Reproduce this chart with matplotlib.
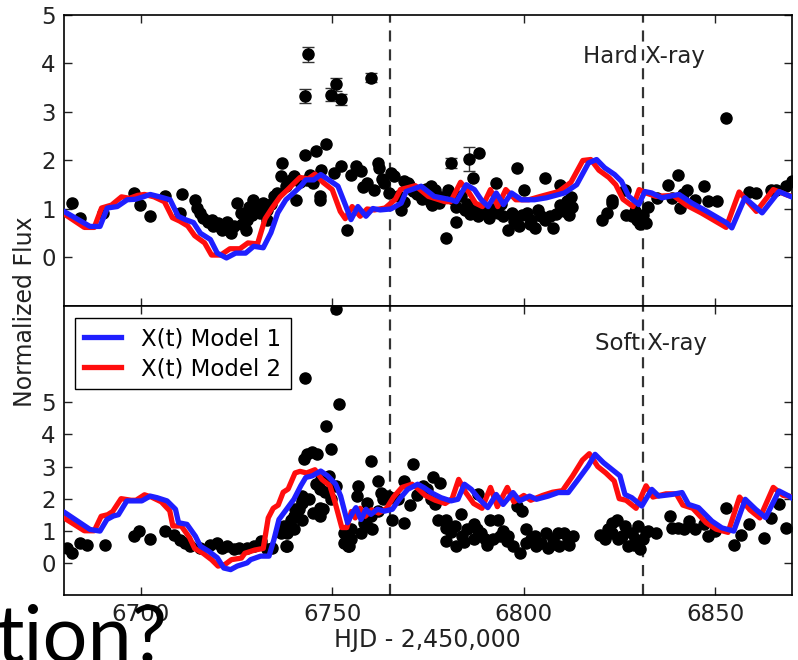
import matplotlib
matplotlib.use('Agg')
import matplotlib.pyplot as plt

# --- model curves, hard X-ray panel ---
hard_m1_t = [6680.0, 6686.8, 6689.4, 6691.3, 6693.9, 6696.5, 6698.6, 6700.7, 6702.5, 6705.0,
             6707.7, 6709.8, 6711.7, 6713.8, 6715.6, 6718.2, 6720.0, 6722.4, 6724.8, 6727.4,
             6729.5, 6732.0, 6734.0, 6735.8, 6737.9, 6739.9, 6741.8, 6743.1, 6745.2, 6747.0,
             6749.1, 6751.5, 6753.6, 6754.9, 6756.7, 6758.8, 6760.6, 6762.5, 6765.3, 6768.0,
             6769.3, 6773.2, 6776.6, 6781.0, 6782.4, 6785.0, 6787.1, 6788.9, 6790.7, 6792.8,
             6794.7, 6796.8, 6799.4, 6802.8, 6805.9, 6810.6, 6813.8, 6816.9, 6819.0, 6821.1,
             6823.7, 6825.5, 6827.4, 6830.0, 6831.6, 6833.4, 6836.0, 6840.5, 6843.9, 6847.8,
             6853.0, 6854.3, 6857.7, 6862.2, 6866.6, 6870.5]
hard_m1_f = [0.95, 0.64, 0.64, 1.02, 1.05, 1.19, 1.20, 1.25, 1.30, 1.25,
             1.19, 0.85, 0.78, 0.72, 0.50, 0.37, 0.09, -0.01, 0.09, 0.09,
             0.23, 0.20, 0.51, 0.92, 1.19, 1.33, 1.47, 1.60, 1.60, 1.71,
             1.60, 1.47, 1.05, 0.78, 1.05, 0.85, 1.01, 0.98, 1.00, 1.12,
             1.36, 1.47, 1.26, 1.19, 1.15, 1.50, 1.40, 1.19, 1.05, 1.33,
             1.09, 1.33, 1.19, 1.19, 1.23, 1.33, 1.50, 1.95, 2.02, 1.85,
             1.71, 1.57, 1.26, 1.09, 1.36, 1.33, 1.23, 1.30, 1.12, 0.95,
             0.71, 0.61, 1.23, 0.92, 1.36, 1.23]

hard_m2_t = [6680.0, 6685.3, 6687.9, 6689.8, 6692.4, 6695.0, 6697.1, 6699.2, 6701.0, 6703.5,
             6706.2, 6708.3, 6710.2, 6712.3, 6714.1, 6716.7, 6718.5, 6720.9, 6723.3, 6725.9,
             6728.0, 6730.5, 6732.5, 6734.3, 6736.4, 6738.4, 6740.3, 6741.6, 6743.7, 6745.5,
             6747.6, 6750.0, 6752.1, 6753.4, 6755.2, 6757.3, 6759.1, 6761.0, 6763.8, 6766.5,
             6767.8, 6771.7, 6775.1, 6779.5, 6780.9, 6783.5, 6785.6, 6787.4, 6789.2, 6791.3,
             6793.2, 6795.3, 6797.9, 6801.3, 6804.4, 6809.1, 6812.3, 6815.4, 6817.5, 6819.6,
             6822.2, 6824.0, 6825.9, 6828.5, 6830.1, 6831.9, 6834.5, 6839.0, 6842.4, 6846.3,
             6851.5, 6852.8, 6856.2, 6860.7, 6865.1, 6869.0, 6870.5]
hard_m2_f = [0.90, 0.62, 0.62, 1.02, 1.08, 1.25, 1.22, 1.28, 1.30, 1.25,
             1.15, 0.82, 0.75, 0.65, 0.45, 0.30, 0.05, 0.05, 0.18, 0.18,
             0.30, 0.28, 0.80, 1.02, 1.25, 1.40, 1.55, 1.65, 1.62, 1.72,
             1.55, 1.40, 0.95, 0.80, 1.05, 0.85, 1.00, 0.98, 1.02, 1.20,
             1.40, 1.48, 1.26, 1.15, 1.15, 1.55, 1.35, 1.12, 1.05, 1.40,
             1.05, 1.40, 1.19, 1.19, 1.26, 1.36, 1.55, 2.00, 2.02, 1.80,
             1.65, 1.50, 1.20, 1.05, 1.40, 1.33, 1.26, 1.28, 1.08, 0.92,
             0.68, 0.62, 1.35, 0.95, 1.40, 1.28, 1.25]

# --- model curves, soft X-ray panel ---
soft_m1_t = [6680.3, 6686.8, 6689.4, 6691.2, 6692.9, 6694.2, 6696.4, 6699.0, 6700.3, 6702.5,
             6704.3, 6706.9, 6709.1, 6709.9, 6712.1, 6714.3, 6715.6, 6717.8, 6720.0, 6721.7,
             6723.5, 6725.2, 6727.8, 6728.7, 6731.3, 6733.5, 6734.8, 6736.1, 6737.4, 6738.7,
             6740.0, 6741.8, 6743.1, 6744.8, 6747.0, 6748.8, 6750.9, 6752.2, 6754.0, 6755.3,
             6756.2, 6757.5, 6758.8, 6760.1, 6761.8, 6763.6, 6765.7, 6767.5, 6769.7, 6772.3,
             6774.0, 6775.8, 6778.4, 6781.0, 6782.8, 6784.5, 6786.3, 6788.4, 6790.6, 6792.8,
             6794.6, 6797.2, 6798.9, 6801.5, 6803.3, 6806.4, 6809.0, 6811.6, 6814.2, 6816.8,
             6818.6, 6820.8, 6822.9, 6825.1, 6826.4, 6828.2, 6830.8, 6833.4, 6835.2, 6838.6,
             6841.3, 6843.0, 6845.6, 6849.1, 6851.7, 6854.8, 6857.8, 6860.5, 6863.1, 6866.6,
             6869.2, 6870.5]
soft_m1_f = [1.56, 1.04, 0.99, 1.35, 1.46, 1.50, 1.93, 1.93, 1.93, 2.08,
             2.03, 1.93, 1.67, 1.25, 1.20, 0.83, 0.52, 0.36, 0.16, -0.16,
             -0.21, -0.10, 0.00, 0.10, 0.21, 0.21, 0.73, 1.35, 1.56, 1.77,
             1.98, 2.40, 2.66, 2.71, 2.86, 2.71, 2.45, 2.08, 1.25, 1.56,
             1.72, 1.35, 1.67, 1.51, 1.67, 1.61, 1.67, 1.98, 2.29, 2.45,
             2.34, 2.19, 2.03, 1.93, 1.98, 2.45, 2.29, 1.98, 1.72, 2.13,
             1.82, 2.19, 1.93, 2.08, 1.98, 2.08, 2.19, 2.19, 2.60, 3.02,
             3.38, 3.12, 2.92, 2.71, 2.13, 2.03, 1.77, 2.29, 2.08, 2.13,
             2.19, 1.82, 1.72, 1.30, 1.09, 0.99, 1.98, 1.67, 1.41, 2.24,
             2.08, 1.98]

soft_m2_t = [6680.0, 6685.3, 6687.9, 6689.7, 6691.4, 6692.7, 6694.9, 6697.5, 6698.8, 6701.0,
             6702.8, 6705.4, 6707.6, 6708.4, 6710.6, 6712.8, 6714.1, 6716.3, 6718.5, 6720.2,
             6722.0, 6723.7, 6726.3, 6727.2, 6729.8, 6732.0, 6733.3, 6734.6, 6735.9, 6737.2,
             6738.5, 6740.3, 6741.6, 6743.3, 6745.5, 6747.3, 6749.4, 6750.7, 6752.5, 6753.8,
             6755.0, 6756.0, 6757.3, 6758.6, 6760.3, 6762.1, 6764.2, 6766.0, 6768.2, 6770.8,
             6772.5, 6774.3, 6776.9, 6779.5, 6781.3, 6783.0, 6784.8, 6786.9, 6789.1, 6791.3,
             6793.1, 6795.7, 6797.4, 6800.0, 6801.8, 6804.9, 6807.5, 6810.1, 6812.7, 6815.3,
             6817.1, 6819.3, 6821.4, 6823.6, 6824.9, 6826.7, 6829.3, 6831.9, 6833.7, 6837.1,
             6839.8, 6841.5, 6844.1, 6847.6, 6850.2, 6853.3, 6856.3, 6859.0, 6861.6, 6865.1,
             6867.7, 6870.5]
soft_m2_f = [1.40, 1.00, 1.00, 1.45, 1.50, 1.60, 2.00, 1.95, 1.95, 2.12,
             2.05, 1.90, 1.62, 1.15, 1.15, 0.78, 0.45, 0.30, 0.10, -0.10,
             -0.05, 0.10, 0.15, 0.30, 0.40, 0.45, 1.40, 1.70, 1.80, 2.20,
             2.30, 2.80, 2.85, 2.80, 2.90, 2.60, 2.40, 1.90, 1.10, 1.10,
             1.60, 1.40, 1.70, 1.45, 1.65, 1.55, 1.70, 2.05, 2.35, 2.45,
             2.30, 2.10, 1.95, 1.85, 2.00, 2.60, 2.20, 1.85, 1.70, 2.35,
             1.75, 2.35, 1.90, 2.10, 1.95, 2.10, 2.20, 2.25, 2.70, 3.20,
             3.40, 3.00, 2.80, 2.55, 2.00, 1.95, 1.70, 2.40, 2.05, 2.15,
             2.15, 1.80, 1.70, 1.25, 1.05, 0.95, 2.05, 1.65, 1.40, 2.35,
             2.10, 2.05]

# --- observed fluxes ---
hard_t = [6682.0, 6684.2, 6690.3, 6698.2, 6699.9, 6702.5, 6706.4, 6710.8, 6710.4, 6714.3,
          6714.7, 6715.4, 6716.2, 6717.7, 6719.0, 6720.3, 6721.2, 6722.5, 6723.5, 6724.3,
          6725.2, 6726.1, 6727.4, 6727.8, 6728.2, 6729.4, 6730.3, 6731.2, 6732.0, 6732.9,
          6733.1, 6734.8, 6735.7, 6736.6, 6737.0, 6737.9, 6739.2, 6740.1, 6740.5, 6742.8,
          6745.7, 6748.3, 6743.4, 6745.0, 6746.7, 6746.8, 6747.0, 6750.4, 6752.2, 6753.9,
          6756.2, 6757.5, 6759.2, 6761.0, 6761.9, 6762.3, 6763.6, 6764.9, 6765.3, 6766.2,
          6767.1, 6768.0, 6768.8, 6769.7, 6770.0, 6768.8, 6772.0, 6775.8, 6776.0, 6775.8,
          6776.7, 6777.8, 6779.7, 6780.2, 6782.4, 6782.4, 6783.7, 6784.6, 6786.8, 6787.2,
          6788.1, 6788.4, 6789.8, 6792.8, 6793.3, 6794.6, 6795.9, 6796.8, 6798.3, 6798.8,
          6800.1, 6800.9, 6802.0, 6803.8, 6805.5, 6805.5, 6806.8, 6807.7, 6809.4, 6809.4,
          6811.2, 6812.5, 6820.3, 6821.6, 6822.9, 6822.9, 6826.4, 6826.8, 6828.2, 6829.5,
          6830.4, 6831.2, 6832.5, 6834.7, 6837.7, 6838.6, 6840.3, 6840.8, 6842.5, 6844.7,
          6846.9, 6848.2, 6850.4, 6852.9, 6858.7, 6860.5, 6864.4, 6865.7, 6868.3, 6870.0,
          6718.5, 6720.8, 6723.0, 6726.5, 6729.0, 6731.8, 6734.0, 6741.5, 6744.3, 6755.0,
          6758.0, 6763.0, 6771.0, 6773.5, 6774.5, 6778.5, 6781.5, 6785.2, 6786.0, 6789.0,
          6790.8, 6791.8, 6794.0, 6797.5, 6799.5, 6801.5, 6803.0, 6804.5, 6808.5, 6810.5,
          6811.8, 6812.2, 6829.0, 6831.8, 6841.6]
hard_f = [1.12, 0.81, 0.92, 1.33, 1.09, 0.85, 1.26, 1.30, 0.92, 1.19,
          1.02, 0.92, 0.81, 0.74, 0.64, 0.71, 0.57, 0.74, 0.50, 0.64,
          1.12, 0.92, 0.57, 0.78, 1.05, 1.19, 1.05, 0.92, 1.12, 0.78,
          0.98, 1.26, 1.33, 1.67, 1.95, 1.47, 1.60, 1.67, 1.19, 2.12,
          2.19, 2.33, 1.60, 1.54, 1.26, 1.19, 1.81, 1.74, 1.88, 0.57,
          1.88, 1.78, 1.54, 1.40, 1.95, 1.85, 1.54, 1.33, 1.74, 1.67,
          1.26, 0.98, 1.57, 1.54, 1.50, 1.15, 1.30, 1.47, 1.09, 1.12,
          1.40, 1.12, 0.40, 1.40, 1.05, 0.74, 1.26, 0.98, 1.64, 0.98,
          0.85, 2.16, 0.92, 1.54, 0.92, 0.85, 0.57, 0.92, 1.85, 0.64,
          1.40, 0.92, 0.78, 0.98, 1.64, 0.78, 0.85, 0.61, 1.50, 1.09,
          1.16, 1.05, 0.78, 0.92, 1.19, 1.12, 1.40, 0.88, 0.85, 0.78,
          0.68, 0.88, 1.05, 1.23, 1.50, 1.23, 1.71, 1.02, 1.40, 1.19,
          1.47, 1.16, 1.16, 2.88, 1.36, 1.33, 1.40, 1.40, 1.47, 1.57,
          0.78, 0.62, 0.60, 0.70, 0.88, 1.00, 1.10, 1.55, 1.70, 1.70,
          1.45, 1.62, 1.38, 1.20, 1.42, 1.25, 1.20, 1.10, 0.90, 1.02,
          0.82, 1.00, 1.10, 0.75, 0.88, 0.70, 0.60, 0.85, 0.90, 0.95,
          0.88, 1.25, 0.95, 0.72, 1.30]

# flares with visible error bars
hard_err_t = [6742.8, 6743.7, 6749.6, 6750.9, 6752.2, 6760.1, 6781.0, 6785.8]
hard_err_f = [3.33, 4.19, 3.36, 3.57, 3.26, 3.71, 1.95, 2.03]
hard_err_e = [0.14, 0.16, 0.14, 0.14, 0.12, 0.10, 0.10, 0.25]

soft_t = [6680.7, 6682.0, 6684.2, 6685.9, 6690.7, 6698.2, 6699.5, 6702.5, 6706.4, 6708.6,
          6710.4, 6711.5, 6713.0, 6715.6, 6718.2, 6720.0, 6721.3, 6722.5, 6724.4, 6725.7,
          6727.8, 6729.6, 6731.3, 6733.0, 6734.4, 6736.6, 6737.5, 6738.3, 6739.2, 6740.0,
          6740.9, 6741.3, 6742.0, 6742.2, 6742.6, 6743.5, 6744.8, 6746.1, 6742.8, 6745.7,
          6747.0, 6746.7, 6748.3, 6749.6, 6751.8, 6750.9, 6749.1, 6749.6, 6751.0, 6753.1,
          6754.0, 6754.9, 6756.7, 6757.5, 6760.1, 6760.0, 6761.9, 6763.6, 6765.7, 6766.1,
          6746.7, 6742.2, 6747.6, 6746.8, 6756.4, 6759.0, 6759.1, 6760.5, 6762.8, 6763.2,
          6764.6, 6767.1, 6768.8, 6768.8, 6771.0, 6773.6, 6775.8, 6753.1, 6754.8, 6754.3,
          6737.9, 6738.1, 6740.0, 6740.4, 6742.2, 6776.2, 6778.0, 6776.7, 6777.5, 6779.7,
          6779.7, 6779.7, 6782.0, 6782.4, 6783.7, 6783.9, 6785.2, 6786.9, 6786.9, 6788.1,
          6788.9, 6789.8, 6791.1, 6792.0, 6793.3, 6793.7, 6795.5, 6797.2, 6798.1, 6798.9,
          6799.5, 6800.5, 6800.5, 6801.8, 6803.1, 6804.4, 6805.7, 6806.2, 6807.5, 6808.8,
          6809.3, 6810.6, 6811.5, 6812.8, 6819.9, 6821.3, 6823.0, 6822.9, 6824.2, 6824.7,
          6826.4, 6827.3, 6828.2, 6829.1, 6829.9, 6830.4, 6831.2, 6832.5, 6834.6, 6838.2,
          6838.6, 6840.3, 6841.7, 6843.0, 6844.7, 6846.9, 6848.2, 6850.0, 6852.8, 6854.8,
          6856.6, 6858.7, 6862.6, 6864.4, 6866.6, 6868.3,
          6744.0, 6745.0, 6748.0, 6758.2, 6762.0, 6770.2, 6772.0, 6774.8, 6781.0, 6784.5,
          6787.8, 6790.5, 6794.5, 6796.0, 6802.8, 6808.0, 6811.8, 6821.9, 6825.5, 6828.8,
          6831.9]
soft_f = [0.47, 0.31, 0.63, 0.57, 0.57, 0.83, 0.99, 0.73, 0.99, 0.88,
          0.70, 0.63, 0.52, 0.47, 0.57, 0.63, 0.47, 0.52, 0.42, 0.47,
          0.47, 0.52, 0.68, 0.42, 0.47, 0.94, 1.15, 0.52, 1.35, 1.04,
          1.46, 1.67, 1.35, 1.93, 3.23, 3.38, 3.44, 3.38, 5.76, 2.45,
          2.60, 1.72, 4.27, 3.54, 4.95, 7.92, 2.71, 1.98, 2.40, 0.94,
          0.52, 0.73, 2.40, 0.94, 3.18, 1.46, 2.55, 2.08, 1.35, 2.03,
          2.29, 1.88, 1.67, 1.46, 2.08, 1.88, 1.15, 1.04, 2.19, 1.98,
          2.08, 1.98, 1.25, 2.55, 3.07, 2.40, 1.98, 0.63, 1.04, 0.52,
          0.52, 0.94, 1.46, 1.67, 2.08, 2.66, 2.50, 1.82, 1.35, 1.35,
          1.09, 0.68, 1.15, 0.52, 1.51, 0.84, 1.05, 1.20, 0.73, 2.13,
          0.94, 0.73, 1.35, 0.73, 1.35, 0.84, 0.68, 0.52, 1.77, 0.31,
          1.61, 1.05, 0.63, 0.73, 0.52, 0.63, 0.94, 0.47, 0.73, 0.94,
          0.52, 0.94, 0.73, 0.84, 0.88, 0.73, 1.25, 0.94, 1.35, 0.73,
          1.15, 0.52, 0.94, 0.73, 1.15, 0.42, 0.73, 0.99, 0.94, 1.46,
          1.10, 1.10, 1.04, 1.30, 1.04, 1.20, 0.84, 0.99, 1.72, 0.57,
          0.88, 1.20, 0.78, 1.41, 1.82, 1.10,
          2.00, 1.55, 2.20, 1.25, 1.60, 1.80, 2.10, 2.30, 0.95, 0.65,
          1.05, 0.55, 1.00, 0.85, 0.85, 0.60, 0.55, 1.05, 0.85, 0.55,
          0.95]

flare_lines = [6765, 6831]
xticks = [6700, 6750, 6800, 6850]

plt.rcParams['font.family'] = 'DejaVu Sans'
plt.rcParams['font.size'] = 16.5

fig = plt.figure(figsize=(7.98, 6.6), dpi=100)
ax1 = fig.add_axes([0.0802, 0.5364, 0.9123, 0.4409])
ax2 = fig.add_axes([0.0802, 0.0985, 0.9123, 0.4379], sharex=ax1)

blue = '#1f1fff'
red = '#ff0d0d'
lw_model = 3.8
ms_pt = 8

# Hard X-ray
ax1.plot(hard_m2_t, hard_m2_f, color=red, lw=lw_model, zorder=3)
ax1.plot(hard_m1_t, hard_m1_f, color=blue, lw=lw_model, zorder=4)
ax1.plot(hard_t, hard_f, 'o', color='k', ms=ms_pt, mec='k', zorder=2)
ax1.errorbar(hard_err_t, hard_err_f, yerr=hard_err_e, fmt='o', color='k', ms=ms_pt,
             ecolor='#333333', elinewidth=1, capsize=4, zorder=2)
for x in flare_lines:
    ax1.axvline(x, color='#333333', ls=(0, (5, 3.5)), lw=1.6, zorder=1)
ax1.text(6815.5, 4.15, 'Hard X-ray', va='center', ha='left', fontsize=16.5, color='#222222')
ax1.set_ylim(-1, 5)
ax1.set_yticks([0, 1, 2, 3, 4, 5])

# Soft X-ray
ax2.plot(soft_m2_t, soft_m2_f, color=red, lw=lw_model, zorder=3, label='X(t) Model 2')
ax2.plot(soft_m1_t, soft_m1_f, color=blue, lw=lw_model, zorder=4, label='X(t) Model 1')
ax2.plot(soft_t, soft_f, 'o', color='k', ms=ms_pt, mec='k', zorder=2)
for x in flare_lines:
    ax2.axvline(x, color='#333333', ls=(0, (5, 3.5)), lw=1.6, zorder=1)
ax2.text(6818.5, 6.82, 'Soft X-ray', va='center', ha='left', fontsize=16.5, color='#222222')
ax2.set_ylim(-1, 8)
ax2.set_yticks([0, 1, 2, 3, 4, 5])

h, l = ax2.get_legend_handles_labels()
leg = ax2.legend(h[::-1], l[::-1], loc='upper left', bbox_to_anchor=(0.015, 0.958),
                 borderaxespad=0, fancybox=False, framealpha=1, edgecolor='k',
                 handlelength=1.6, handletextpad=0.9, labelspacing=0.3, fontsize=16.5)
leg.get_frame().set_linewidth(1.0)

ax1.set_xlim(6680, 6870)
ax1.set_xticks(xticks)
for ax in (ax1, ax2):
    ax.tick_params(direction='in', length=6, width=1, top=True, right=True,
                   labelsize=16.5, pad=6, colors='#222222')
    for s in ax.spines.values():
        s.set_linewidth(1.2)
ax1.tick_params(labelbottom=False)

fig.text(0.031, 0.528, 'Normalized Flux', rotation=90, ha='center', va='center',
         fontsize=17, color='#222222')
fig.text(0.536, 0.03, 'HJD - 2,450,000', ha='center', va='center', fontsize=17,
         color='#222222')

# slide text bleeding in at the bottom left
fig.text(-0.006, -0.003, 'tion?', ha='left', va='baseline', fontsize=57,
         family=['Lato', 'DejaVu Sans'], color='black')

plt.savefig('out.png', dpi=100)
